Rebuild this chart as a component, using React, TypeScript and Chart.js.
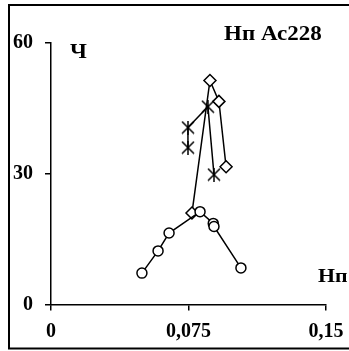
import React, { useEffect, useRef } from 'react';
import { Chart, registerables } from 'chart.js';

Chart.register(...registerables);

const circleX = [0.0496, 0.0584, 0.0644, 0.0813, 0.0885, 0.0889, 0.1036];
const circleY = [7.2, 12.3, 16.4, 21.3, 18.6, 17.9, 8.4];

const diamondX = [0.0769, 0.0867, 0.0916, 0.0955];
const diamondY = [21.0, 51.4, 46.6, 31.6];

const starX = [0.0747, 0.0747, 0.0856, 0.0889];
const starY = [36.0, 40.6, 45.4, 29.8];

const xTicks = [0, 0.075, 0.15];
const xTickLabels = ['0', '0,075', '0,15'];
const yTicks = [0, 30, 60];

const titleText = 'Нп Ас228';
const yAxisText = 'Ч';
const xAxisText = 'Нп';

const FONT = '"Liberation Serif", "Times New Roman", serif';

function makeStar(): HTMLCanvasElement {
  const c = document.createElement('canvas');
  c.width = 14;
  c.height = 14;
  const g = c.getContext('2d')!;
  g.strokeStyle = '#000';
  g.lineWidth = 1.5;
  g.beginPath();
  g.moveTo(1, 1);
  g.lineTo(13, 13);
  g.moveTo(13, 1);
  g.lineTo(1, 13);
  g.moveTo(7, 0);
  g.lineTo(7, 14);
  g.stroke();
  return c;
}

function stretchedText(ctx: CanvasRenderingContext2D, text: string, x: number, y: number, size: number, sx: number) {
  ctx.save();
  ctx.translate(x, y);
  ctx.scale(sx, 1);
  ctx.font = `bold ${size}px ${FONT}`;
  ctx.fillText(text, 0, 0);
  ctx.restore();
}

export default function App() {
  const ref = useRef<HTMLCanvasElement | null>(null);

  useEffect(() => {
    if (!ref.current) return;
    const star = makeStar();

    const decor = {
      id: 'decor',
      beforeDraw(chart: any) {
        const ctx = chart.ctx;
        ctx.save();
        ctx.fillStyle = '#fff';
        ctx.fillRect(0, 0, chart.width, chart.height);
        ctx.restore();
      },
      afterDraw(chart: any) {
        const ctx = chart.ctx;
        ctx.save();
        ctx.strokeStyle = '#000';
        ctx.lineWidth = 2;
        ctx.strokeRect(9, 5, 360, 343.5);
        ctx.fillStyle = '#000';
        ctx.textBaseline = 'alphabetic';
        ctx.textAlign = 'left';
        stretchedText(ctx, titleText, 224, 40, 20, 1.15);
        stretchedText(ctx, yAxisText, 70, 58, 20, 1.15);
        stretchedText(ctx, xAxisText, 318, 282, 19, 1.15);
        ctx.restore();
      },
    };

    const toPts = (xs: number[], ys: number[]) => xs.map((x, i) => ({ x, y: ys[i] }));

    const chart = new Chart(ref.current, {
      type: 'scatter',
      data: {
        datasets: [
          {
            data: toPts(circleX, circleY),
            showLine: true,
            borderColor: '#000',
            borderWidth: 1.5,
            pointStyle: 'circle',
            pointRadius: 5,
            pointBorderWidth: 1.5,
            pointBorderColor: '#000',
            pointBackgroundColor: '#fff',
          },
          {
            data: toPts(diamondX, diamondY),
            showLine: true,
            borderColor: '#000',
            borderWidth: 1.5,
            pointStyle: 'rectRot',
            pointRadius: 6,
            pointBorderWidth: 1.5,
            pointBorderColor: '#000',
            pointBackgroundColor: '#fff',
          },
          {
            data: toPts(starX, starY),
            showLine: true,
            borderColor: '#000',
            borderWidth: 1.5,
            pointStyle: star as any,
            pointRadius: 6,
          },
        ],
      },
      options: {
        responsive: false,
        animation: false,
        events: [],
        layout: { padding: { left: 0, top: 43, right: 23, bottom: 0 } },
        plugins: { legend: { display: false }, tooltip: { enabled: false } },
        scales: {
          x: {
            type: 'linear',
            min: 0,
            max: 0.15,
            afterBuildTicks: (s: any) => {
              s.ticks = xTicks.map((v) => ({ value: v }));
            },
            afterFit: (s: any) => {
              s.height = 46.5;
              s.paddingLeft = 0;
              s.paddingRight = 0;
            },
            ticks: {
              callback: (v: any) => xTickLabels[xTicks.indexOf(Number(v))] ?? '',
              color: '#000',
              font: { family: FONT, weight: 'bold', size: 20 },
              padding: 9,
              maxRotation: 0,
            },
            grid: {
              drawOnChartArea: false,
              drawTicks: true,
              tickLength: 6,
              color: '#000',
              lineWidth: 1.5,
            },
            border: { display: true, color: '#000', width: 1.5 },
          },
          y: {
            type: 'linear',
            min: 0,
            max: 60,
            afterBuildTicks: (s: any) => {
              s.ticks = yTicks.map((v) => ({ value: v }));
            },
            afterFit: (s: any) => {
              s.width = 51;
              s.paddingTop = 0;
              s.paddingBottom = 0;
            },
            ticks: {
              color: '#000',
              font: { family: FONT, weight: 'bold', size: 20 },
              padding: 12,
            },
            grid: {
              drawOnChartArea: false,
              drawTicks: true,
              tickLength: 6,
              color: '#000',
              lineWidth: 1.5,
            },
            border: { display: true, color: '#000', width: 1.5 },
          },
        },
      },
      plugins: [decor],
    });

    return () => chart.destroy();
  }, []);

  return (
    <div style={{ position: 'fixed', left: 0, top: 0, width: 349, height: 351 }}>
      <canvas ref={ref} width={349} height={351} style={{ width: 349, height: 351, display: 'block' }} />
    </div>
  );
}
